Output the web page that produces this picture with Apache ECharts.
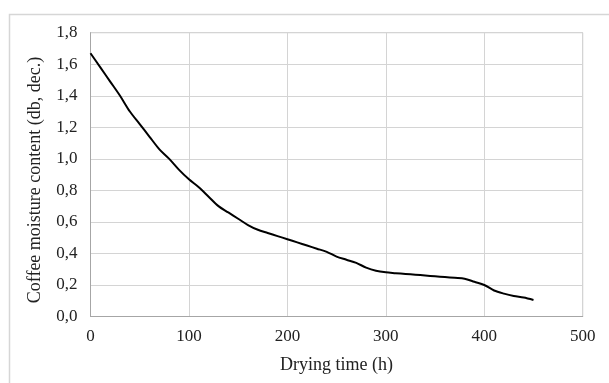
<!DOCTYPE html>
<html>
<head>
<meta charset="utf-8">
<script src="https://cdn.jsdelivr.net/npm/echarts@6/dist/echarts.min.js"></script>
<style>
html,body{margin:0;padding:0;background:#fff;}
#chart{width:609px;height:383px;}
</style>
</head>
<body>
<div id="chart"></div>
<script>
const dryingTime = [0,10,20,30,40,50,60,70,80,90,100,110,120,130,140,150,160,170,180,190,200,210,220,230,240,250,260,270,280,290,300,310,320,330,340,350,360,370,380,390,400,410,420,430,440,450];
const moisture = [1.67,1.58,1.49,1.40,1.30,1.22,1.14,1.06,1.00,0.93,0.87,0.82,0.76,0.70,0.66,0.62,0.58,0.55,0.53,0.51,0.49,0.47,0.45,0.43,0.41,0.38,0.36,0.34,0.31,0.29,0.28,0.275,0.27,0.265,0.26,0.255,0.25,0.245,0.24,0.22,0.20,0.165,0.145,0.13,0.12,0.105];
const xTitle = 'Drying time (h)';
const yTitle = 'Coffee moisture content (db, dec.)';

const chart = echarts.init(document.getElementById('chart'), null, {renderer:'canvas'});
const font = '"Liberation Serif","Times New Roman",serif';
chart.setOption({
  animation:false,
  backgroundColor:'#fff',
  graphic:[
    {type:'rect', shape:{x:9.5,y:14.5,width:640,height:420}, style:{fill:'none', stroke:'#d6d6d6', lineWidth:1.5}},
    {type:'text', x:35, y:180, rotation:Math.PI/2,
     style:{text:yTitle, fontFamily:font, fontSize:18, fill:'#222', align:'center', verticalAlign:'middle'}}
  ],
  grid:{left:90.5, right:26.3, top:32.7, bottom:66.5, show:true, borderColor:'#c0c0c0', borderWidth:1},
  xAxis:{type:'value', min:0, max:500, interval:100,
    name:xTitle, nameLocation:'middle', nameGap:40,
    nameTextStyle:{fontFamily:font, fontSize:18, color:'#222'},
    axisLine:{show:true, lineStyle:{color:'#a6a6a6'}}, axisTick:{show:false},
    axisLabel:{fontFamily:font, fontSize:17, color:'#222', margin:12},
    splitLine:{show:true, lineStyle:{color:'#d4d4d4'}}},
  yAxis:{type:'value', min:0, max:1.8, interval:0.2,
    axisLine:{show:true, lineStyle:{color:'#a6a6a6'}}, axisTick:{show:false},
    axisLabel:{fontFamily:font, fontSize:17, color:'#222', margin:13,
      formatter:v=>v.toFixed(1).replace('.',',')},
    splitLine:{show:true, lineStyle:{color:'#d4d4d4'}}},
  series:[{type:'line', data:dryingTime.map((t,i)=>[t,moisture[i]]), showSymbol:false,
    smooth:0.3, lineStyle:{color:'#000', width:2}}]
});
</script>
</body>
</html>
